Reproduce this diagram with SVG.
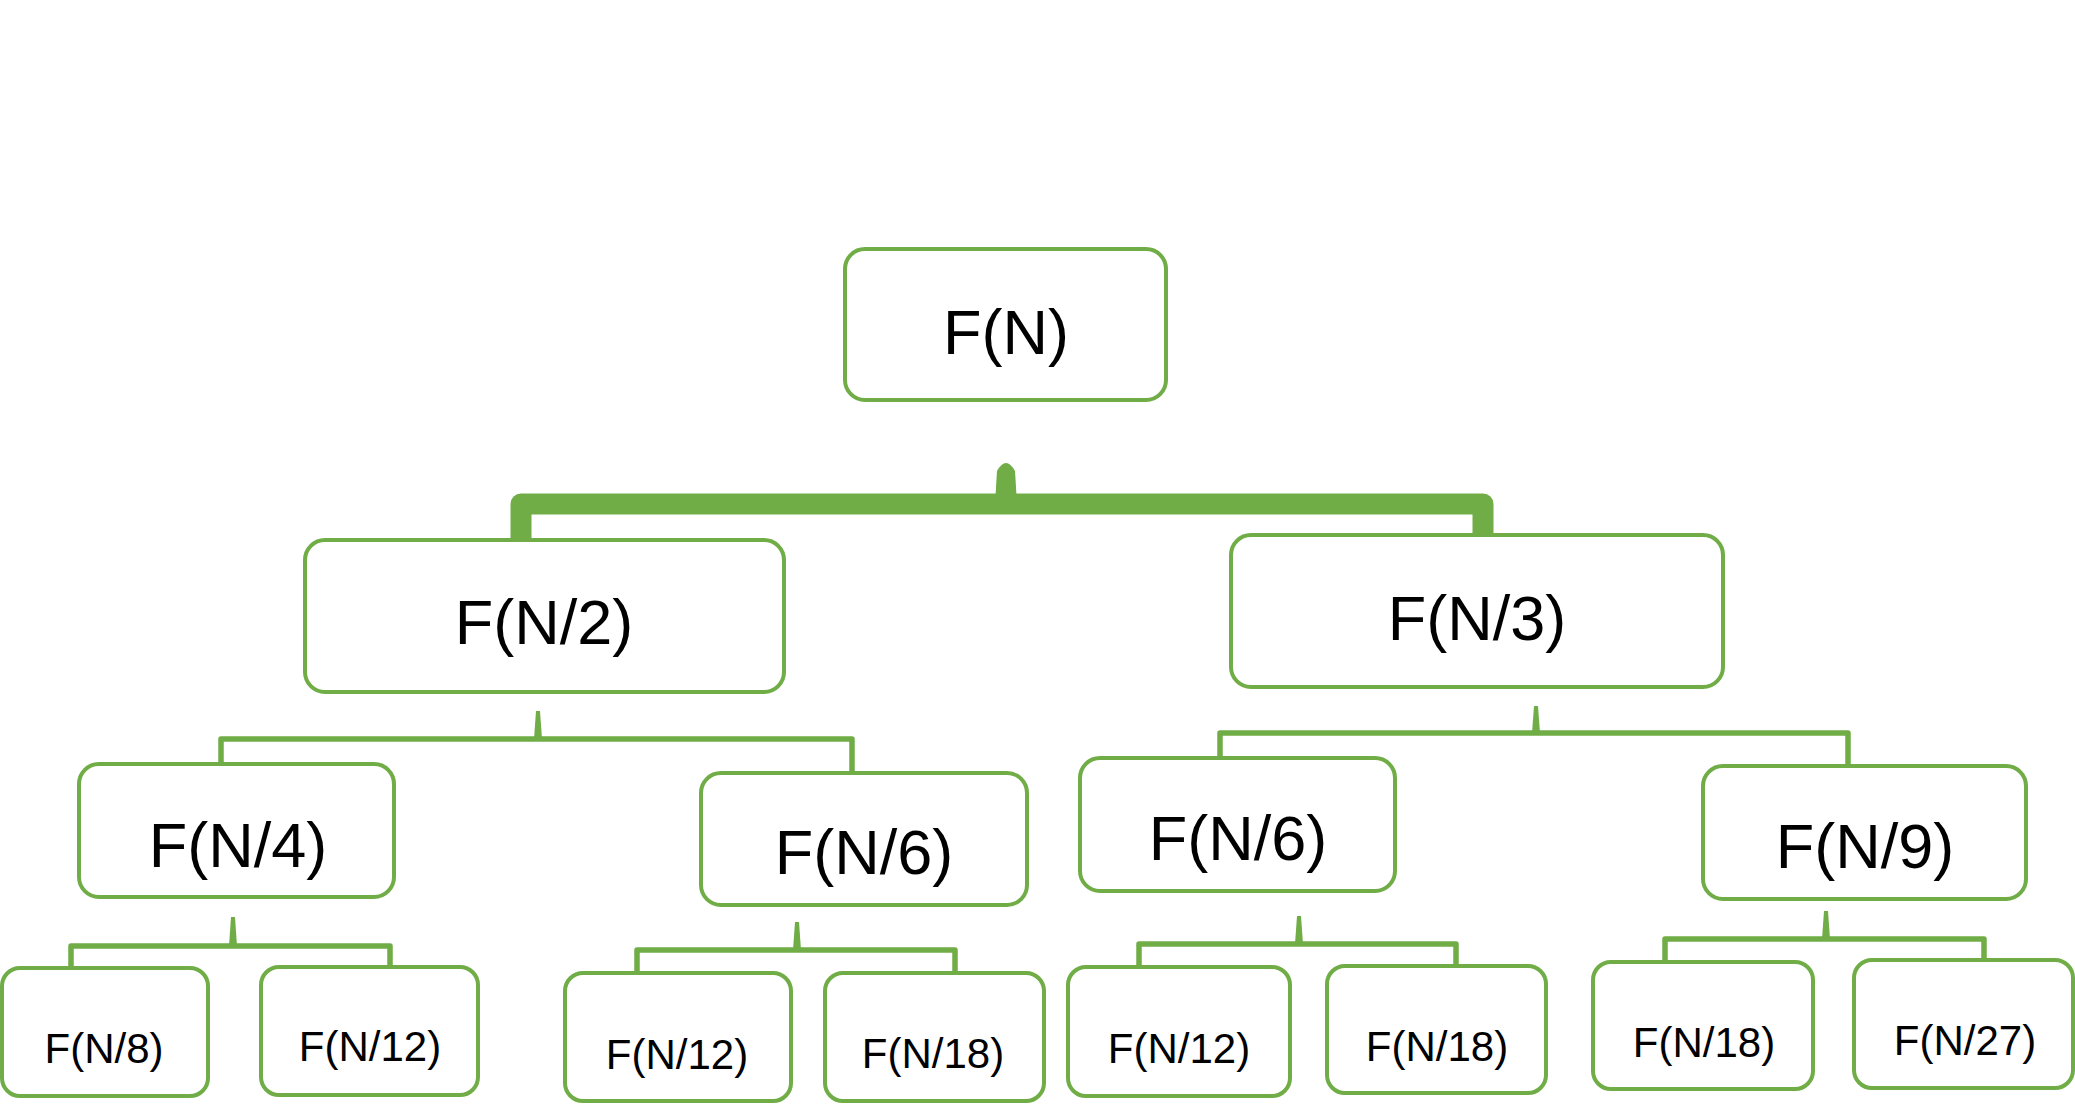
<svg xmlns="http://www.w3.org/2000/svg" width="2075" height="1109" viewBox="0 0 2075 1109">
<style>
.box{fill:#ffffff;stroke:#70AD47;stroke-width:4}
.lbl{font-family:"Liberation Sans",Arial,sans-serif;fill:#000000;text-anchor:middle}
.big{font-size:63px}
.small{font-size:42px}
.conn{fill:none;stroke:#70AD47;stroke-width:5.5;stroke-linejoin:round}
.thick{fill:none;stroke:#70AD47;stroke-width:21;stroke-linejoin:round}
.stub{fill:#70AD47}
</style>
<rect width="2075" height="1109" fill="#ffffff"/>
<g id="connectors">
  <path class="thick" d="M521 541 V504 H1483 V536"/>
  <path class="stub" d="M995 504 L997 471 Q1006 455 1015 471 L1017 504 Z"/>
  <path class="conn" d="M221 765 V739 H852 V774"/>
  <path class="stub" d="M534 739 L536 711 L540 711 L542 739 Z"/>
  <path class="conn" d="M1220 759 V733 H1848 V767"/>
  <path class="stub" d="M1532 733 L1534 706 L1538 706 L1540 733 Z"/>
  <path class="conn" d="M71 969 V946 H390 V968"/>
  <path class="stub" d="M229 946 L231 917 L235 917 L237 946 Z"/>
  <path class="conn" d="M637 974 V950 H955 V974"/>
  <path class="stub" d="M793 950 L795 922 L799 922 L801 950 Z"/>
  <path class="conn" d="M1139 968 V944 H1456 V967"/>
  <path class="stub" d="M1295 944 L1297 916 L1301 916 L1303 944 Z"/>
  <path class="conn" d="M1665 963 V939 H1984 V961"/>
  <path class="stub" d="M1822 939 L1824 911 L1828 911 L1830 939 Z"/>
</g>
<g id="n_FN"><rect class="box" x="845" y="249" width="321" height="151" rx="20"/><text class="lbl big" x="1006" y="354">F(N)</text></g>
<g id="n_FN2"><rect class="box" x="305" y="540" width="479" height="152" rx="20"/><text class="lbl big" x="544" y="644">F(N/2)</text></g>
<g id="n_FN3"><rect class="box" x="1231" y="535" width="492" height="152" rx="20"/><text class="lbl big" x="1477" y="640">F(N/3)</text></g>
<g id="n_FN4"><rect class="box" x="79" y="764" width="315" height="133" rx="20"/><text class="lbl big" x="238" y="867">F(N/4)</text></g>
<g id="n_FN6a"><rect class="box" x="701" y="773" width="326" height="132" rx="20"/><text class="lbl big" x="864" y="874">F(N/6)</text></g>
<g id="n_FN6b"><rect class="box" x="1080" y="758" width="315" height="133" rx="20"/><text class="lbl big" x="1238" y="860">F(N/6)</text></g>
<g id="n_FN9"><rect class="box" x="1703" y="766" width="323" height="133" rx="20"/><text class="lbl big" x="1865" y="868">F(N/9)</text></g>
<g id="n_L1"><rect class="box" x="2" y="968" width="206" height="128" rx="18"/><text class="lbl small" x="104" y="1063">F(N/8)</text></g>
<g id="n_L2"><rect class="box" x="261" y="967" width="217" height="128" rx="18"/><text class="lbl small" x="370" y="1061">F(N/12)</text></g>
<g id="n_L3"><rect class="box" x="565" y="973" width="226" height="128" rx="18"/><text class="lbl small" x="677" y="1069">F(N/12)</text></g>
<g id="n_L4"><rect class="box" x="825" y="973" width="219" height="128" rx="18"/><text class="lbl small" x="933" y="1068">F(N/18)</text></g>
<g id="n_L5"><rect class="box" x="1068" y="967" width="222" height="129" rx="18"/><text class="lbl small" x="1179" y="1063">F(N/12)</text></g>
<g id="n_L6"><rect class="box" x="1327" y="966" width="219" height="127" rx="18"/><text class="lbl small" x="1437" y="1061">F(N/18)</text></g>
<g id="n_L7"><rect class="box" x="1593" y="962" width="220" height="127" rx="18"/><text class="lbl small" x="1704" y="1057">F(N/18)</text></g>
<g id="n_L8"><rect class="box" x="1854" y="960" width="219" height="128" rx="18"/><text class="lbl small" x="1965" y="1055">F(N/27)</text></g>
</svg>
